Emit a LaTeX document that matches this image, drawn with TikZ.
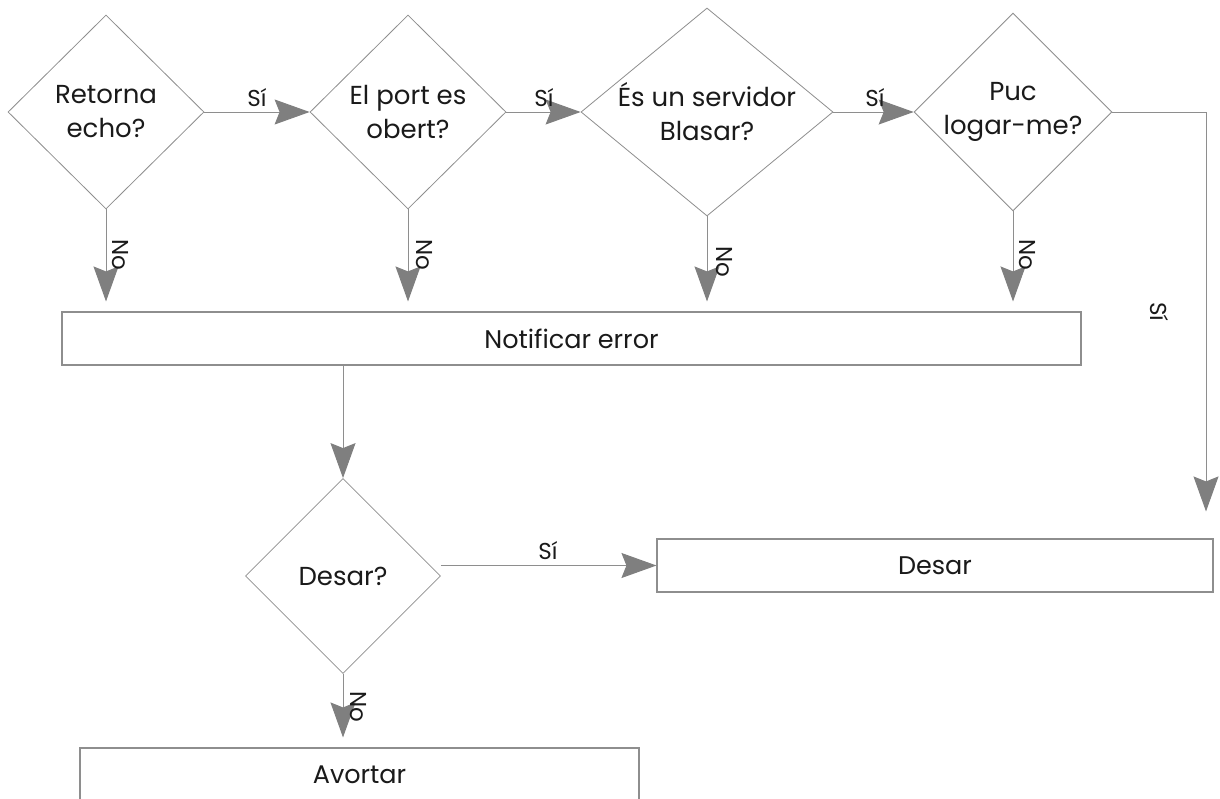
\documentclass[tikz,border=0pt]{standalone}
\usepackage{fontspec}
\setmainfont{Poppins}
\usetikzlibrary{shapes.geometric,arrows.meta}
\definecolor{lin}{HTML}{8E8E8E}
\definecolor{head}{HTML}{7F7F7F}
\definecolor{txt}{HTML}{1A1A1A}
\tikzset{
  dec/.style={shape=diamond, draw=lin, line width=0.8pt, inner sep=0pt, align=center,
    text=txt, font=\fontsize{26}{34}\selectfont},
  procbox/.style={shape=rectangle, draw=lin, line width=1.1pt, inner sep=0pt, text=txt,
    font=\fontsize{25.5}{34}\selectfont},
  arr/.style={draw=lin, line width=1pt, -{Stealth[length=35pt,width=25pt,inset=5pt,color=head,fill=head]}},
  conn/.style={draw=lin, line width=1pt},
  lbl/.style={text=txt, font=\fontsize{23}{26}\selectfont, inner sep=0pt},
}
\begin{document}
\begin{tikzpicture}[x=1pt,y=-1pt]
\clip (0,0) rectangle (1220,798);
\fill[white] (0,0) rectangle (1220,798);
% decisions
\node[dec, minimum width=196pt, minimum height=194pt] (d1) at (106,112) {Retorna\\echo?};
\node[dec, minimum width=196pt, minimum height=194pt] (d2) at (408,112) {El port es\\obert?};
\node[dec, minimum width=252pt, minimum height=208pt, aspect=1.2] (d3) at (707,112) {És un servidor\\Blasar?};
\node[dec, minimum width=196pt, minimum height=194pt] (d4) at (1013,112) {Puc\\logar-me?};
\node[dec, minimum width=195pt, minimum height=195pt] (d5) at (343,576) {Desar?};
% boxes
\node[procbox, minimum width=1019pt, minimum height=53pt] (nerr) at (571.5,338.5) {Notificar error};
\node[procbox, minimum width=556pt, minimum height=53pt] (desar) at (935,565.5) {Desar};
\node[procbox, minimum width=559pt, minimum height=54pt] (avortar) at (359.5,775) {Avortar};
% yes chain
\draw[arr] (d1.east) -- (d2.west);
\draw[arr] (d2.east) -- (d3.west);
\draw[arr] (d3.east) -- (d4.west);
\coordinate (c1) at (1206,112);
\draw[conn] (d4.east) -- (c1);
\draw[arr, shorten >=27pt] (c1) -- (c1 |- desar.north);
% no arrows
\draw[arr, shorten >=10pt] (d1.south) -- (d1.south |- nerr.north);
\draw[arr, shorten >=10pt] (d2.south) -- (d2.south |- nerr.north);
\draw[arr, shorten >=10pt] (d3.south) -- (d3.south |- nerr.north);
\draw[arr, shorten >=10pt] (d4.south) -- (d4.south |- nerr.north);
\draw[arr] (d5.north |- nerr.south) -- (d5.north);
\draw[arr] (d5.east |- desar.west) -- (desar.west);
\draw[arr, shorten >=10pt] (d5.south) -- (d5.south |- avortar.north);
% labels
\node[lbl] (s1) at (257,98) {Sí};
\node[lbl] (s2) at (544,98) {Sí};
\node[lbl] (s3) at (875,98) {Sí};
\node[lbl] (s4) at (548,551) {Sí};
\node[lbl, rotate=-90] (s5) at (1159,312) {Sí};
\node[lbl, rotate=-90] (n1) at (120,255) {No};
\node[lbl, rotate=-90] (n2) at (424,255) {No};
\node[lbl, rotate=-90] (n3) at (724,262) {No};
\node[lbl, rotate=-90] (n4) at (1027,255) {No};
\node[lbl, rotate=-90] (n5) at (358,707) {No};
\end{tikzpicture}
\end{document}
